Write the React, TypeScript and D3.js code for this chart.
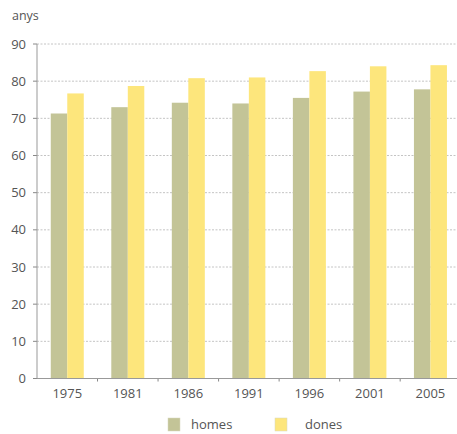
import React from "react";
import * as d3 from "d3";

const years = ["1975", "1981", "1986", "1991", "1996", "2001", "2005"];
const homes = [71.3, 73.0, 74.2, 74.0, 75.5, 77.2, 77.8];
const dones = [76.7, 78.7, 80.8, 81.0, 82.7, 84.0, 84.3];
const yTicks = [0, 10, 20, 30, 40, 50, 60, 70, 80, 90];
const seriesNames = ["homes", "dones"];
const colors = ["#c3c497", "#fde67c"];

const W = 457;
const H = 434;

export default function App() {
  const x0 = 37;
  const y = d3.scaleLinear().domain([0, 90]).range([378.5, 44]);
  const x = d3.scaleBand<string>().domain(years).range([x0, 460.7]).paddingInner(0).paddingOuter(0);
  const inner = d3.scaleBand<string>().domain(seriesNames).range([0, 33]);
  const font = "'Open Sans', 'Noto Sans', sans-serif";
  const textColor = "#555";
  return (
    <svg width={W} height={H} style={{ position: "absolute", left: 0, top: 0, background: "#fff" }}>
      <text x={12} y={20} fontFamily={font} fontSize={12.5} fill={textColor}>anys</text>
      {yTicks.map((t) => (
        <g key={t}>
          {t > 0 && (
            <line x1={x0} x2={W} y1={y(t)} y2={y(t)} stroke="#b5b5b5" strokeWidth={0.8} strokeDasharray="2,1.5" />
          )}
          <line x1={x0 - 4} x2={x0} y1={y(t)} y2={y(t)} stroke="#888" strokeWidth={1} />
          <text x={26} y={y(t) + 4.5} textAnchor="end" fontFamily={font} fontSize={13} fill={textColor}>{t}</text>
        </g>
      ))}
      {years.map((yr, i) => {
        const bx = (x(yr) as number) + (x.bandwidth() - 33) / 2;
        return (
          <g key={yr}>
            <rect x={bx + (inner("homes") as number)} y={y(homes[i])} width={inner.bandwidth()} height={y(0) - y(homes[i])} fill={colors[0]} />
            <rect x={bx + (inner("dones") as number)} y={y(dones[i])} width={inner.bandwidth()} height={y(0) - y(dones[i])} fill={colors[1]} />
            <text x={(x(yr) as number) + x.bandwidth() / 2} y={398} textAnchor="middle" fontFamily={font} fontSize={13} fill={textColor}>{yr}</text>
            {i > 0 && <line x1={x(yr)} x2={x(yr)} y1={y(0)} y2={y(0) + 3} stroke="#888" strokeWidth={1} />}
          </g>
        );
      })}
      <line x1={x0} x2={x0} y1={y(90)} y2={y(0)} stroke="#999" strokeWidth={1} />
      <line x1={x0} x2={W} y1={y(0)} y2={y(0)} stroke="#999" strokeWidth={1} />
      {seriesNames.map((s, i) => (
        <g key={s}>
          <rect x={168 + i * 107} y={418} width={12} height={13} fill={colors[i]} stroke="#d8d8c0" strokeWidth={0.5} />
          <text x={191 + i * 114} y={429} fontFamily={font} fontSize={13} fill={textColor}>{s}</text>
        </g>
      ))}
    </svg>
  );
}
